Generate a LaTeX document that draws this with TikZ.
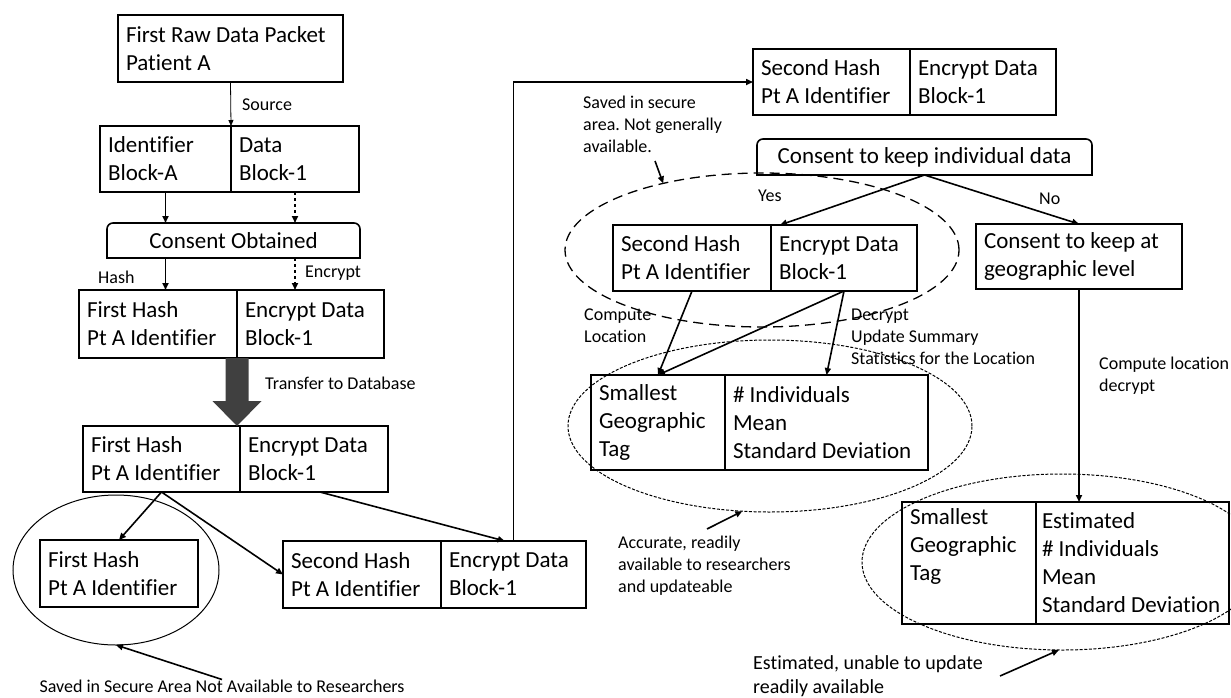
\documentclass[tikz,border=0pt]{standalone}
\usepackage{fontspec}
\setmainfont{Carlito}[Ligatures={NoCommon}]
\frenchspacing
\usetikzlibrary{arrows.meta,shapes.geometric,calc}
\definecolor{fatgray}{HTML}{404040}
\begin{document}
\begin{tikzpicture}[x=1pt,y=-1pt,
  cell/.style={draw, line width=1.6pt, anchor=north west, align=flush left, inner xsep=8pt, inner ysep=0pt, outer sep=0pt, font=\fontsize{23}{28}\selectfont},
  roundbox/.style={anchor=north west, align=center, inner sep=0pt, outer sep=0pt, font=\fontsize{23}{28}\selectfont},
  lbl/.style={anchor=west, align=flush left, inner sep=0pt, font=\fontsize{18}{22}\selectfont},
  conn/.style={line width=1.6pt, -{Triangle[length=7pt,width=6pt]}},
  thinconn/.style={line width=0.8pt, -{Triangle[length=6pt,width=5pt]}},
  region/.style={ellipse, draw, inner sep=0pt, outer sep=0pt},
  longdash/.style={dash pattern=on 10pt off 6pt, line width=1.3pt},
  shortdash/.style={dash pattern=on 3pt off 1.6pt, line width=1pt}
]
\useasboundingbox (0,0) rectangle (1231,697);

% ---------- regions (ellipses)
\node[region, line width=1pt, minimum width=206, minimum height=150] (e1) at (116,570) {};
\node[region, longdash, minimum width=394, minimum height=154] (e2) at (762,250) {};
\node[region, shortdash, minimum width=404, minimum height=172] (e3) at (770,426) {};
\node[region, shortdash, minimum width=400, minimum height=176] (e4) at (1062,562) {};

% ---------- left column
\node[cell, text width=209, minimum height=67] (raw) at (118,15) {First Raw Data Packet\\Patient A};
\node[cell, text width=115, minimum height=66] (idA) at (100,126) {Identifier\\Block-A};
\node[cell, text width=112, minimum height=66] (data1) at (231,126) {Data\\Block-1};
\node[roundbox, minimum width=253, minimum height=35] (cons1) at (107,223) {Consent Obtained};
\draw[line width=1.6pt] (cons1.south west) [rounded corners=6pt]-- (cons1.north west) -- (cons1.north east) [sharp corners]-- (cons1.south east) -- cycle;
\node[cell, text width=142, minimum height=68] (fh2) at (79,290) {First Hash\\Pt A Identifier};
\node[cell, text width=131, minimum height=68] (ed2) at (237,290) {Encrypt Data\\Block-1};
\node[cell, text width=141, minimum height=66] (fh3) at (83,426) {First Hash\\Pt A Identifier};
\node[cell, text width=132, minimum height=66] (ed3) at (240,426) {Encrypt Data\\Block-1};
\node[cell, text width=142, minimum height=67] (fh4) at (40,540) {First Hash\\Pt A Identifier};
\node[cell, text width=142, minimum height=67] (sh5) at (283,541) {Second Hash\\Pt A Identifier};
\node[cell, text width=129, minimum height=67] (ed5) at (441,541) {Encrypt Data\\Block-1};

% ---------- right part
\node[cell, text width=141, minimum height=66] (sh6) at (753,49) {Second Hash\\Pt A Identifier};
\node[cell, text width=130, minimum height=66] (ed6) at (910,49) {Encrypt Data\\Block-1};
\node[roundbox, minimum width=335, minimum height=36] (cons2) at (757,139) {Consent to keep individual data};
\draw[line width=1.6pt] (cons2.south west) [rounded corners=6pt]-- (cons2.north west) -- (cons2.north east) [sharp corners]-- (cons2.south east) -- cycle;
\node[cell, text width=142, minimum height=66] (sh7) at (613,225) {Second Hash\\Pt A Identifier};
\node[cell, text width=130, minimum height=66] (ed7) at (771,225) {Encrypt Data\\Block-1};
\node[cell, text width=190, minimum height=65] (geo) at (976,224) {Consent to keep at\\geographic level};
\node[cell, text width=118, minimum height=95] (sg8) at (591,375) {Smallest\\Geographic\\Tag};
\node[cell, text width=187, minimum height=95] (st8) at (725,375) {\# Individuals\\Mean\\Standard Deviation};
\node[cell, text width=118, minimum height=122] (sg9) at (902,502) {Smallest\\Geographic\\Tag\\\strut};
\node[cell, inner xsep=6pt, text width=181, minimum height=122] (st9) at (1036,502) {Estimated\\\# Individuals\\Mean\\Standard Deviation};

% ---------- connectors, left
\draw[thinconn] (raw.south) -- (idA.north east);
\draw[conn] (idA.south) -- (idA.south |- cons1.north);
\draw[conn, dashed] (data1.south) -- (data1.south |- cons1.north);
\draw[conn] (cons1.south -| idA.south) -- (fh2.north -| idA.south);
\draw[conn, dashed] (cons1.south -| data1.south) -- (ed2.north -| data1.south);
\coordinate (ft) at (ed2.south west);
\coordinate (fb) at (ed3.north west);
\fill[fatgray] ($(ft)+(-11.5,0)$) -- ($(ft)+(11.5,0)$) -- ($(ft |- fb)+(11.5,-25)$) -- ($(ft |- fb)+(24.5,-25)$) -- (ft |- fb) -- ($(ft |- fb)+(-24.5,-25)$) -- ($(ft |- fb)+(-11.5,-25)$) -- cycle;
\draw[conn] (fh3.south) -- (fh4.north);
\draw[conn] (fh3.south) -- (sh5.west);
\draw[conn] ($(ed3.south west)!0.54!(ed3.south east)$) -- ($(ed5.north west)!0.44!(ed5.north east)$);
\draw[conn] ($(ed5.north west)!0.5!(ed5.north east)$) |- (sh6.west);

% ---------- connectors, right
\draw[conn] (cons2.south) -- ($(ed7.north west)+(9,0)$);
\draw[conn] (cons2.south) -- (geo.north);
\draw[conn] (sh7.south) -- (sg8.north);
\draw[conn] (ed7.south) -- (sg8.north);
\draw[conn] (ed7.south) -- (st8.north);
\draw[conn] (geo.south) -- (geo.south |- st9.north);

% ---------- labels
\node[lbl] (lsrc) at (242,105) {Source};
\node[lbl] (lhash) at (98,277) {Hash};
\node[lbl] (lenc) at (305,273) {Encrypt};
\node[lbl] (lxfer) at (265,383) {Transfer to Database};
\node[lbl] (lyes) at (758,196) {Yes};
\node[lbl] (lno) at (1039,199) {No};
\node[lbl] (lcl) at (584,326) {Compute\\Location};
\node[lbl] (ldec) at (851,337) {Decrypt\\Update Summary\\Statistics for the Location};
\node[lbl] (lcloc) at (1099,376) {Compute location\\decrypt};
\node[lbl] (lsav2) at (583,124) {Saved in secure\\area. Not generally\\available.};
\node[lbl] (lacc) at (618,566) {Accurate, readily\\available to researchers\\and updateable};
\node[lbl, font=\fontsize{20}{24}\selectfont] (lest) at (753,676) {Estimated, unable to update\\readily available};
\node[lbl, anchor=center] (lsav1) at (222,686) {Saved in Secure Area Not Available to Researchers};

% ---------- pointers to regions
\coordinate (p2) at (655,161);
\coordinate (p3) at (707,529);
\coordinate (p4) at (1000,676);
\draw[conn] (lsav1.north) -- (e1.south);
\draw[conn] (p2) -- (e2.146);
\draw[conn] (p3) -- (e3.252);
\draw[conn] (p4) -- (e4.268);
\end{tikzpicture}
\end{document}
